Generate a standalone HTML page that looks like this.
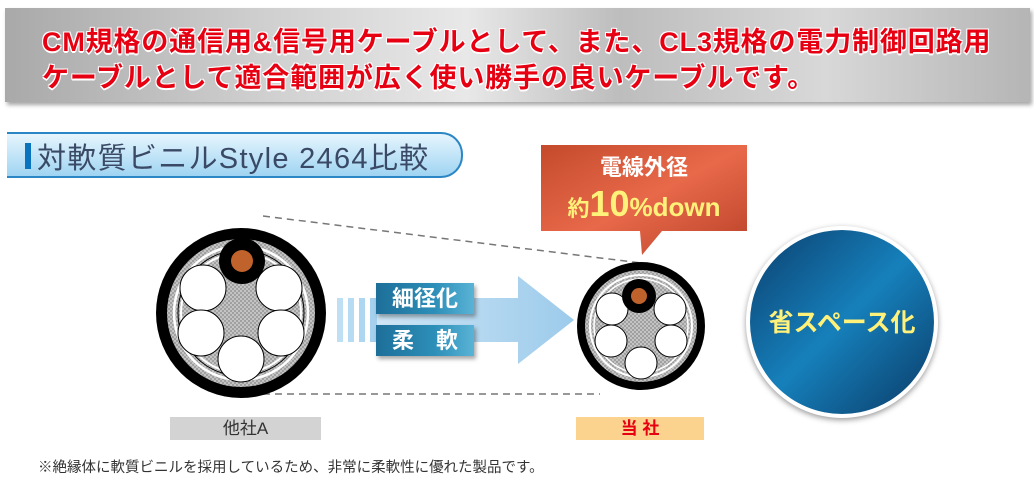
<!DOCTYPE html>
<html><head><meta charset="utf-8"><style>
body{margin:0;width:1034px;height:480px;background:#fff;position:relative;overflow:hidden;font-family:"Liberation Sans","Noto Sans CJK JP",sans-serif}
.banner{position:absolute;left:5px;top:8px;width:1025px;height:94px;background:linear-gradient(90deg,#a9a9a9 0%,#cfcfcf 25%,#e8e8e8 45%,#bdbdbd 60%,#d8d8d8 80%,#b5b5b5 100%);box-shadow:2px 3px 4px rgba(0,0,0,.35)}
.banner div{position:absolute;left:37px;font-size:27px;font-weight:bold;color:#e60012;letter-spacing:0.85px;white-space:nowrap;text-shadow:-1px -1px 0 #fff,1px -1px 0 #fff,-1px 1px 0 #fff,1px 1px 0 #fff,0 2px 0 #fff}
.tab{position:absolute;left:7px;top:132px;width:454px;height:42px;border:2px solid #2a86c4;border-left:none;border-radius:0 22px 22px 0;background:linear-gradient(#e6f5fd,#9fd4f2)}
.tab .bar{position:absolute;left:18px;top:9px;width:6px;height:26px;background:#0a73be}
.tab .t{position:absolute;left:30px;top:1px;font-size:29px;color:#3a4a66;white-space:nowrap;letter-spacing:1.3px}
.lab{position:absolute;font-size:22px;font-weight:bold;color:#fff;text-align:center;background:linear-gradient(90deg,#1d6f99,#2d8fb8 60%,#5ab3d6);box-shadow:2px 3px 4px rgba(0,0,0,.35)}
</style></head><body>
<div class="banner">
<div style="top:12px">CM規格の通信用&amp;信号用ケーブルとして、また、CL3規格の電力制御回路用</div>
<div style="top:48px">ケーブルとして適合範囲が広く使い勝手の良いケーブルです。</div>
</div>
<div class="tab"><div class="bar"></div><div class="t">対軟質ビニルStyle 2464比較</div></div>
<svg width="1034" height="480" style="position:absolute;left:0;top:0">
<defs>
<pattern id="h" width="4" height="4" patternUnits="userSpaceOnUse"><rect width="4" height="4" fill="#c8c8c8"/><path d="M0 0L4 4M4 0L0 4" stroke="#8a8a8a" stroke-width=".6"/></pattern>
<linearGradient id="cg" x1="0" y1="0" x2="1" y2="1"><stop offset="0" stop-color="#c44a2c"/><stop offset=".5" stop-color="#e8694a"/><stop offset="1" stop-color="#b94128"/></linearGradient>
<linearGradient id="bg" x1="0" y1="0" x2="1" y2="1"><stop offset="0" stop-color="#0b3f6e"/><stop offset=".5" stop-color="#1680bb"/><stop offset="1" stop-color="#0a3a66"/></linearGradient>
<linearGradient id="ag" x1="0" x2="1"><stop offset="0" stop-color="#cfe6f6"/><stop offset="1" stop-color="#9ccbeb"/></linearGradient>
</defs>
<line x1="263" y1="216" x2="641" y2="263" stroke="#777" stroke-width="1.5" stroke-dasharray="7,5"/>
<line x1="263" y1="394" x2="600" y2="394" stroke="#777" stroke-width="1.5" stroke-dasharray="7,5"/>
<g transform="translate(241,313)">
<circle r="85" fill="#000"/><circle r="74" fill="url(#h)"/>
<circle r="67" fill="none" stroke="#fff" stroke-width="2.5"/><circle r="63" fill="none" stroke="#000" stroke-width="1"/><circle r="60" fill="none" stroke="#fff" stroke-width="2"/>
<circle cx="-38" cy="-25" r="23" fill="#fff" stroke="#000"/><circle cx="38" cy="-25" r="23" fill="#fff" stroke="#000"/>
<circle cx="-40" cy="20" r="23" fill="#fff" stroke="#000"/><circle cx="40" cy="20" r="23" fill="#fff" stroke="#000"/>
<circle cx="0" cy="46" r="23" fill="#fff" stroke="#000"/>
<circle cx="1" cy="-52" r="23" fill="#000"/><circle cx="1" cy="-52" r="11" fill="#c0622c"/>
</g>
<g transform="translate(641,326)">
<circle r="64" fill="#000"/><circle r="56" fill="url(#h)"/>
<circle r="51" fill="none" stroke="#fff" stroke-width="2"/><circle r="47" fill="none" stroke="#fff" stroke-width="1.5"/>
<circle cx="-29" cy="-17" r="16" fill="#fff" stroke="#000"/><circle cx="29" cy="-17" r="16" fill="#fff" stroke="#000"/>
<circle cx="-30" cy="15" r="16" fill="#fff" stroke="#000"/><circle cx="30" cy="15" r="16" fill="#fff" stroke="#000"/>
<circle cx="0" cy="37" r="16" fill="#fff" stroke="#000"/>
<circle cx="-2" cy="-30" r="17" fill="#000"/><circle cx="-2" cy="-30" r="8" fill="#c0622c"/>
</g>
<rect x="337" y="298" width="6" height="44" fill="#bfe0f4"/><rect x="348" y="298" width="6" height="44" fill="#b6dbf2"/><rect x="359" y="298" width="6" height="44" fill="#add6f0"/><rect x="370" y="298" width="7" height="44" fill="#a5d1ee"/>
<path d="M377 298H518V276L574 320L518 364V342H377Z" fill="url(#ag)"/>
<path d="M541 145H747V231H662L642 255L640 231H541Z" fill="url(#cg)"/>
<text x="644" y="175" font-size="22" font-weight="bold" fill="#fff" text-anchor="middle">電線外径</text>
<text x="644" y="216" fill="#fff27a" text-anchor="middle" font-weight="bold"><tspan font-size="22">約</tspan><tspan font-size="36">10</tspan><tspan font-size="26">%down</tspan></text>
<circle cx="842" cy="322" r="96" fill="#fff" style="filter:drop-shadow(0 2px 3px rgba(0,0,0,.4))"/>
<circle cx="842" cy="322" r="92" fill="url(#bg)"/>
<text x="842" y="331" font-size="25" font-weight="bold" fill="#fff27a" text-anchor="middle">省スペース化</text>
</svg>
<div class="lab" style="left:376px;top:283px;width:98px;height:31px;line-height:31px">細径化</div>
<div class="lab" style="left:376px;top:325px;width:98px;height:31px;line-height:31px">柔　軟</div>
<div style="position:absolute;left:170px;top:417px;width:151px;height:23px;background:#d3d3d3;text-align:center;font-size:17px;line-height:23px;color:#333">他社A</div>
<div style="position:absolute;left:576px;top:417px;width:128px;height:23px;background:#fbd38f;text-align:center;font-size:17px;font-weight:bold;line-height:23px;color:#e60012">当 社</div>
<div style="position:absolute;left:38px;top:456px;font-size:14.5px;color:#333;white-space:nowrap">※絶縁体に軟質ビニルを採用しているため、非常に柔軟性に優れた製品です。</div>
</body></html>
